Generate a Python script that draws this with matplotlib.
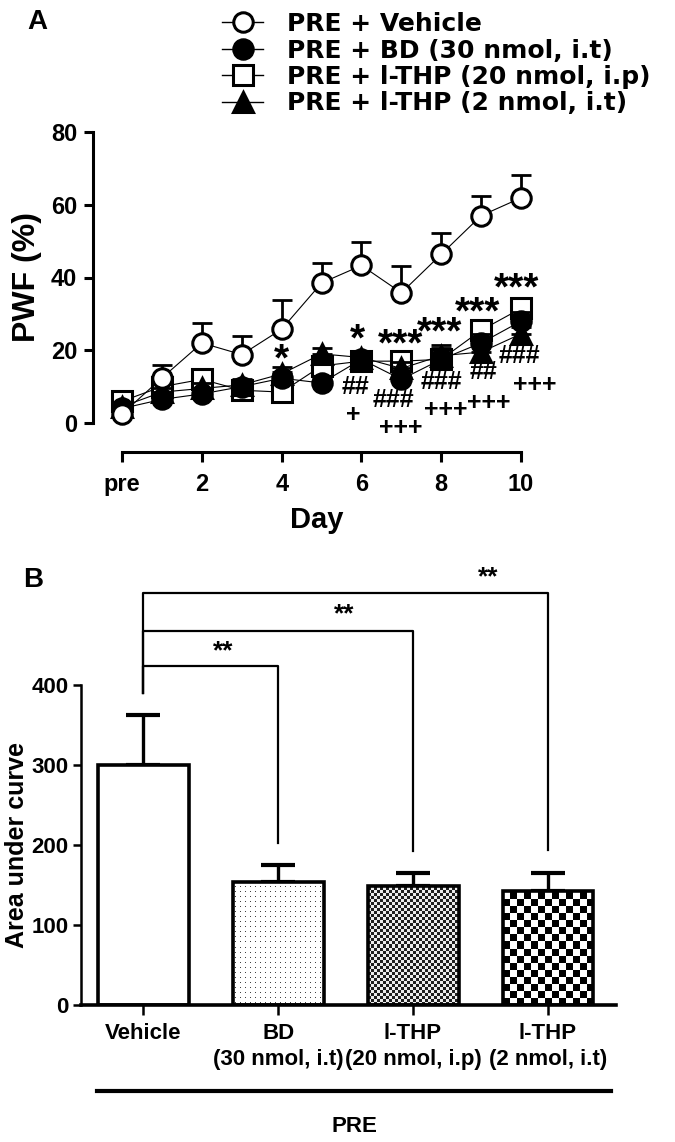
import numpy as np
import matplotlib
matplotlib.use('Agg')
import matplotlib.pyplot as plt
from matplotlib.lines import Line2D

# ---------------- data: panel A ----------------
days = list(range(11))
day_ticks = [0, 2, 4, 6, 8, 10]
day_labels = ['pre', '2', '4', '6', '8', '10']

veh_mean = [2.5, 12.4, 22.0, 18.8, 25.8, 38.5, 43.3, 35.8, 46.4, 57.0, 61.9]
veh_sem = [1.5, 3.6, 5.5, 5.0, 8.0, 5.5, 6.5, 7.3, 5.7, 5.5, 6.4]
bd_mean = [4.0, 6.5, 8.0, 10.0, 12.3, 11.0, 17.5, 12.0, 17.5, 22.0, 28.0]
bd_sem = [1.0, 1.2, 1.5, 1.5, 1.8, 1.5, 2.0, 1.8, 2.0, 2.5, 2.5]
ip_mean = [6.0, 10.0, 12.0, 9.0, 8.5, 15.7, 17.0, 17.0, 17.5, 25.5, 31.5]
ip_sem = [1.0, 1.2, 1.5, 1.5, 1.5, 1.8, 2.0, 2.0, 4.0, 2.0, 2.5]
it_mean = [4.5, 8.5, 9.5, 10.5, 13.5, 19.0, 18.0, 15.0, 18.5, 19.5, 24.5]
it_sem = [1.0, 1.2, 1.5, 1.5, 2.0, 1.5, 1.5, 1.8, 2.0, 2.0, 2.0]

group_labels = ['PRE + Vehicle', 'PRE + BD (30 nmol, i.t)',
                'PRE + l-THP (20 nmol, i.p)', 'PRE + l-THP (2 nmol, i.t)']

# significance marks: (text, day, value)
sig_marks = [('*', 4.0, 17.2), ('*', 5.9, 22.8), ('***', 6.98, 21.3),
             ('***', 7.97, 24.6), ('***', 8.92, 30.0), ('***', 9.9, 36.8)]
hash_marks = [('##', 5.86, 9.8), ('+', 5.8, 2.3), ('###', 6.8, 6.2),
              ('+++', 6.98, -1.3), ('###', 8.0, 11.2), ('+++', 8.1, 3.6),
              ('##', 9.05, 14.0), ('+++', 9.2, 5.5), ('###', 9.95, 18.3),
              ('+++', 10.35, 10.5)]

# ---------------- data: panel B ----------------
bar_groups = ['Vehicle', 'BD\n(30 nmol, i.t)', 'l-THP\n(20 nmol, i.p)', 'l-THP\n(2 nmol, i.t)']
auc_mean = [300, 154, 149, 143]
auc_sem = [62, 21, 16, 22]
# comparison brackets: (target group, bracket level, drop-to level, label, label x, label y)
brackets = [(1, 424, 203, '**', 0.59, 442),
            (2, 467, 192, '**', 1.49, 488),
            (3, 515, 194, '**', 2.56, 534)]
bracket_start = 390

BOLD = ['Liberation Sans', 'DejaVu Sans']
WIDE = ['DejaVu Sans']
NARROW = ['Liberation Sans Narrow', 'Liberation Sans', 'DejaVu Sans']

fig = plt.figure(figsize=(6.75, 11.42), dpi=100)
W, H = 675.0, 1142.0

# ======================= Panel A =======================
axA = fig.add_axes([93 / W, 1 - 423 / H, (541 - 93) / W, (423 - 132) / H])
axA.set_xlim(-0.73, 10.5)
axA.set_ylim(0, 80)

series = [
    (ip_mean, ip_sem, dict(marker='s', mfc='white'), 3),
    (bd_mean, bd_sem, dict(marker='o', mfc='black'), 4),
    (it_mean, it_sem, dict(marker='^', mfc='black'), 5),
    (veh_mean, veh_sem, dict(marker='o', mfc='white'), 6),
]
for mean, sem, mk, z in series:
    axA.errorbar(days, mean, yerr=[np.zeros(len(sem)), sem], fmt='none',
                 ecolor='black', elinewidth=2.0, capsize=7, capthick=2.0,
                 zorder=z, clip_on=False)
    axA.plot(days, mean, color='black', lw=0.8, mec='black', ms=14, mew=2.2,
             zorder=z + 0.5, clip_on=False, **mk)

for txt, x, y in sig_marks:
    axA.text(x, y, txt, ha='center', va='center', fontsize=28,
             fontweight='bold', family=BOLD, zorder=10)
for txt, x, y in hash_marks:
    axA.text(x, y, txt, ha='center', va='center', fontsize=18,
             fontweight='bold', family=BOLD, zorder=10)

for s in ['top', 'right']:
    axA.spines[s].set_visible(False)
axA.spines['left'].set_linewidth(2.2)
axA.spines['bottom'].set_linewidth(2.2)
axA.spines['bottom'].set_position(('outward', 21))
axA.spines['bottom'].set_bounds(0, 10)
axA.spines['left'].set_bounds(0, 80)
axA.set_xticks(day_ticks)
axA.set_xticklabels(day_labels)
axA.set_yticks([0, 20, 40, 60, 80])
axA.tick_params(axis='y', width=2.2, length=6.5, pad=5)
axA.tick_params(axis='x', width=2.2, length=7, pad=8)
for lab in axA.get_xticklabels() + axA.get_yticklabels():
    lab.set_fontsize(17)
    lab.set_fontweight('bold')
    lab.set_family(BOLD)
axA.set_xlabel('Day', fontsize=21, fontweight='bold', family=BOLD, labelpad=7)
axA.set_ylabel('PWF (%)', fontsize=23, fontweight='bold', family=BOLD, labelpad=6)

handles = [
    Line2D([], [], color='black', lw=1.0, marker='o', mfc='white', mec='black', ms=14, mew=2.2),
    Line2D([], [], color='black', lw=1.0, marker='o', mfc='black', mec='black', ms=14, mew=2.2),
    Line2D([], [], color='black', lw=1.0, marker='s', mfc='white', mec='black', ms=14, mew=2.2),
    Line2D([], [], color='black', lw=1.0, marker='^', mfc='black', mec='black', ms=14, mew=2.2),
]
fig.legend(handles, group_labels, loc='upper left',
           bbox_to_anchor=(222 / W, 1 - 12 / H), frameon=False,
           prop=dict(family=WIDE, weight='bold', size=18),
           handlelength=1.65, handletextpad=0.95, labelspacing=0.1,
           borderpad=0, borderaxespad=0)

fig.text(37 / W, 1 - 22 / H, 'A', fontsize=20, fontweight='bold', family=BOLD,
         ha='center', va='center')

# ======================= Panel B =======================
axB = fig.add_axes([81 / W, 1 - 1005 / H, (615.5 - 81) / W, (1005 - 685) / H])
xb = np.arange(len(bar_groups))
axB.set_xlim(-0.46, 3.5)
axB.set_ylim(0, 400)
bw = 0.674

bars = axB.bar(xb, auc_mean, width=bw, color='white', edgecolor='none', zorder=2)
axB.errorbar(xb, auc_mean, yerr=[np.zeros(len(auc_sem)), auc_sem], fmt='none',
             ecolor='black', elinewidth=2.4, capsize=12, capthick=3.0, zorder=1.5)

fig.canvas.draw()
def pattern_fill(bar, kind):
    x0, y0 = bar.get_x(), bar.get_y()
    x1, y1 = x0 + bar.get_width(), y0 + bar.get_height()
    p0 = axB.transData.transform((x0, y0))
    p1 = axB.transData.transform((x1, y1))
    wpx, hpx = int(round(p1[0] - p0[0])), int(round(p1[1] - p0[1]))
    yy, xx = np.mgrid[0:hpx, 0:wpx]
    if kind == 'dots':
        img = np.ones((hpx, wpx))
        img[(yy % 5 == 2) & (xx % 5 == 2)] = 0.25
    elif kind == 'fine':
        img = (((yy // 3) + (xx // 3)) % 2).astype(float)
        img = 0.12 + 0.8 * img
    else:
        img = (((yy // 7) + (xx // 7)) % 2).astype(float)
    im = axB.imshow(img, extent=(x0, x1, y0, y1), cmap='gray', vmin=0, vmax=1,
                    interpolation='nearest', aspect='auto', origin='lower', zorder=2.2)
    im.set_clip_path(bar)

pattern_fill(bars[1], 'dots')
pattern_fill(bars[2], 'fine')
pattern_fill(bars[3], 'checker')
axB.bar(xb, auc_mean, width=bw, fill=False, edgecolor='black', lw=2.6, zorder=3)
axB.set_xlim(-0.46, 3.5)
axB.set_ylim(0, 400)

# brackets
for tgt, lvl, drop, lab, lx, ly in brackets:
    axB.plot([0, 0, tgt, tgt], [bracket_start, lvl, lvl, drop], color='black',
             lw=1.6, clip_on=False, zorder=4)
    axB.text(lx, ly, lab, ha='center', va='center',
             fontsize=19, fontweight='bold', family=NARROW)

for s in ['top', 'right']:
    axB.spines[s].set_visible(False)
axB.spines['left'].set_linewidth(1.8)
axB.spines['bottom'].set_linewidth(2.6)
axB.spines['left'].set_bounds(0, 400)
axB.set_yticks([0, 100, 200, 300, 400])
axB.set_xticks(xb)
axB.set_xticklabels(bar_groups, linespacing=1.3)
axB.tick_params(axis='y', width=1.8, length=6, pad=3)
axB.tick_params(axis='x', width=1.8, length=7, pad=6)
for lab in axB.get_yticklabels():
    lab.set_fontsize(16); lab.set_fontweight('bold'); lab.set_family(NARROW)
for lab in axB.get_xticklabels():
    lab.set_fontsize(16); lab.set_fontweight('bold'); lab.set_family(NARROW)

fig.text(17 / W, 1 - 845 / H, 'Area under curve', rotation=90, fontsize=18,
         fontweight='bold', family=BOLD, ha='center', va='center')
fig.add_artist(Line2D([97 / W, 611 / W], [1 - 1091 / H, 1 - 1091 / H],
                      color='black', lw=3.0))
fig.text(354 / W, 1 - 1127 / H, 'PRE', fontsize=16, fontweight='bold',
         family=NARROW, ha='center', va='center')
fig.text(33 / W, 1 - 580 / H, 'B', fontsize=20, fontweight='bold', family=BOLD,
         ha='center', va='center')

fig.savefig('out.png', dpi=100)
